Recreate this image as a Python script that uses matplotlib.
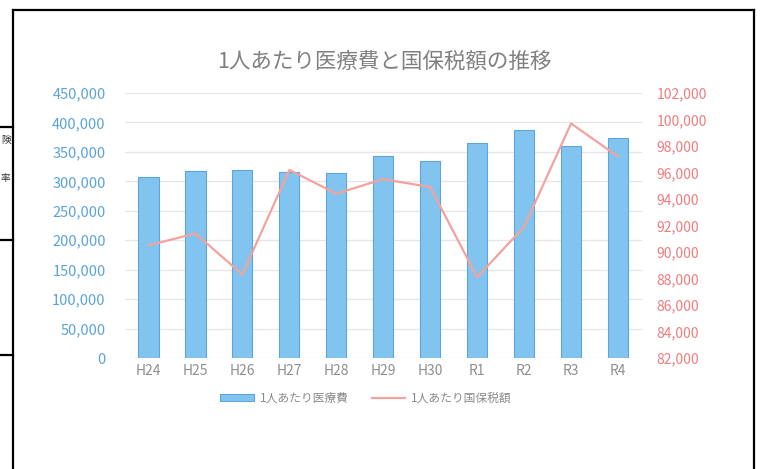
import numpy as np
import matplotlib.pyplot as plt
from matplotlib.lines import Line2D
from matplotlib.ticker import FuncFormatter, MultipleLocator

plt.rcParams['font.family'] = ['Noto Sans CJK JP', 'DejaVu Sans']

# データ
years = ['H24', 'H25', 'H26', 'H27', 'H28', 'H29', 'H30', 'R1', 'R2', 'R3', 'R4']
iryohi = [308000, 318000, 319000, 315000, 314000, 343000, 334000, 365000, 387000, 360000, 373000]
zeigaku = [90500, 91400, 88300, 96200, 94400, 95500, 94900, 88100, 91900, 99700, 97200]

title = '1人あたり医療費と国保税額の推移'
label_bar = '1人あたり医療費'
label_line = '1人あたり国保税額'

W, H = 762, 469
fig = plt.figure(figsize=(W / 100, H / 100), dpi=100)

# 表の罫線
def hline(y, x0, x1):
    fig.add_artist(Line2D([x0 / W, x1 / W], [1 - y / H, 1 - y / H], color='black', lw=1.6))

def vline(x, y0, y1):
    fig.add_artist(Line2D([x / W, x / W], [1 - y0 / H, 1 - y1 / H], color='black', lw=1.6))

vline(13, 10, H)
vline(754, 10, H)
hline(10, 13, 754)
for yy in [127, 240, 355]:
    hline(yy, 0, 13)
fig.text(1 / W, 1 - 140 / H, '険', fontsize=7, color='#333333', va='center')
fig.text(1 / W, 1 - 178 / H, '率', fontsize=7, color='#333333', va='center')

ax = fig.add_axes([125 / W, 111 / H, 516.5 / W, 265 / H])
ax2 = ax.twinx()

x = np.arange(len(years))
ax.bar(x, iryohi, width=0.43, color='#82C4F0', edgecolor='#5DA5DD', linewidth=0.8,
       label=label_bar, zorder=2)
ax2.plot(x, zeigaku, color='#F4A29C', lw=1.6, label=label_line, zorder=3)

ax.set_xlim(-0.5, len(years) - 0.5)
ax.set_ylim(0, 450000)
ax.yaxis.set_major_locator(MultipleLocator(50000))
ax2.set_ylim(82000, 102000)
ax2.yaxis.set_major_locator(MultipleLocator(2000))

fmt = FuncFormatter(lambda v, p: f'{int(v):,}')
ax.yaxis.set_major_formatter(fmt)
ax2.yaxis.set_major_formatter(fmt)

ax.set_xticks(x)
ax.set_xticklabels(years)
ax.grid(axis='y', color='#E6E6E6', lw=0.9, zorder=0)
ax.set_axisbelow(True)

for a in (ax, ax2):
    for s in a.spines.values():
        s.set_visible(False)
    a.tick_params(length=0)

ax.tick_params(axis='y', colors='#5BA3DB', labelsize=10.5, pad=14)
ax.tick_params(axis='x', colors='#8F8F8F', labelsize=10, pad=4)
ax2.tick_params(axis='y', colors='#F07C7C', labelsize=10, pad=11)

fig.text(384 / W, 1 - 62 / H, title, fontsize=15.5, color='#808080', ha='center', va='center')

h1, l1 = ax.get_legend_handles_labels()
h2, l2 = ax2.get_legend_handles_labels()
fig.legend(h1 + h2, l1 + l2, loc='center', bbox_to_anchor=(366 / W, 1 - 398 / H), ncol=2,
           frameon=False, fontsize=8.5, labelcolor='#8A8A8A', handlelength=2.8,
           handleheight=0.5, handletextpad=0.5, columnspacing=2.0)

fig.savefig('out.png', dpi=100, facecolor='white')
